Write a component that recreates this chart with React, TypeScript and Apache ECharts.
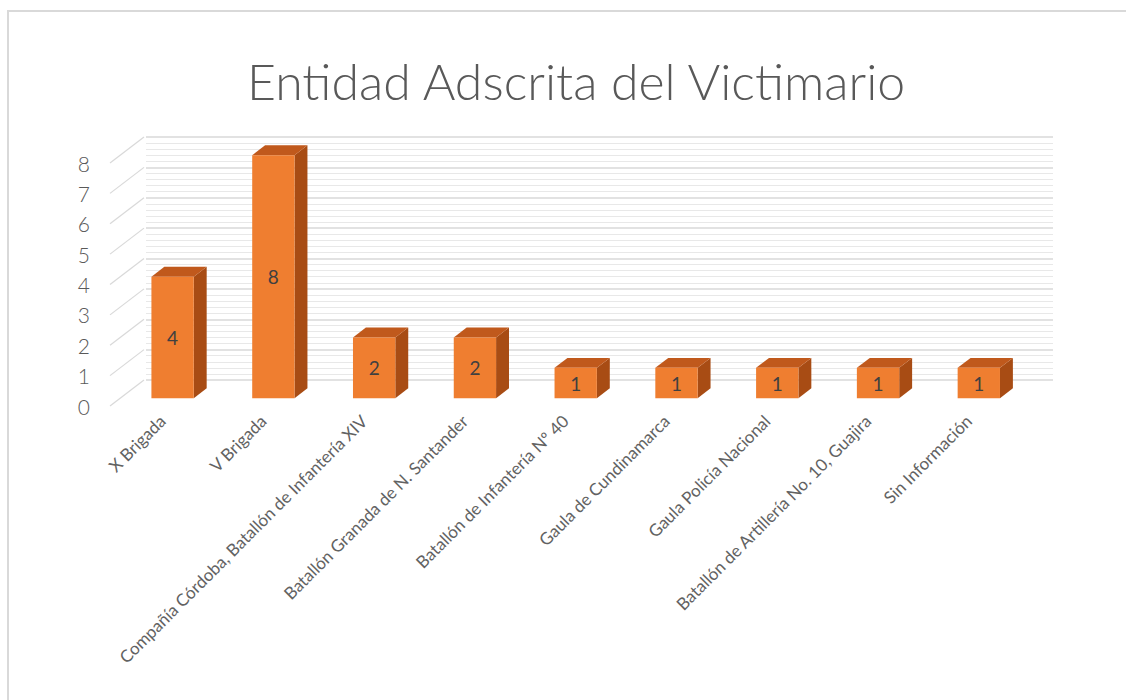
import React, { useEffect, useRef } from "react";
import * as echarts from "echarts";

const categories = [
  "X Brigada",
  "V Brigada",
  "Compañía Córdoba, Batallón de Infantería XIV",
  "Batallón Granada de N. Santander",
  "Batallón de Infantería Nº 40",
  "Gaula de Cundinamarca",
  "Gaula Policía Nacional",
  "Batallón de Artillería No. 10, Guajira",
  "Sin Información",
];
const values = [4, 8, 2, 2, 1, 1, 1, 1, 1];
const yTicks = [0, 1, 2, 3, 4, 5, 6, 7, 8];
const titleText = "Entidad Adscrita del Victimario";

const FONT = "Lato";
const DX = 34;
const DY = -26;
const F0 = 0.3;
const F1 = 0.68;

export default function App() {
  const ref = useRef<HTMLDivElement>(null);
  useEffect(() => {
    if (!ref.current) return;
    const chart = echarts.init(ref.current, undefined, { renderer: "svg" });
    const option: any = {
      animation: false,
      backgroundColor: "#ffffff",
      title: {
        text: titleText,
        left: 242,
        top: 51,
        textStyle: { fontFamily: FONT, fontWeight: 300, fontSize: 50, color: "#595959" },
      },
      graphic: [
        {
          type: "rect",
          shape: { x: 8, y: 11, width: 1200, height: 800 },
          style: { fill: "none", stroke: "#d9d9d9", lineWidth: 2 },
          silent: true,
        },
      ],
      grid: [
        { left: 112, top: 163, width: 907, height: 243 },
        { left: 146, top: 137, width: 907, height: 243 },
      ],
      xAxis: [
        {
          type: "category",
          gridIndex: 0,
          data: categories,
          axisLine: { show: false },
          axisTick: { show: false },
          axisLabel: {
            rotate: 45,
            interval: 0,
            margin: 12,
            fontFamily: FONT,
            fontSize: 17,
            color: "#626262",
          },
        },
        { type: "category", gridIndex: 1, data: categories, show: false },
      ],
      yAxis: [
        {
          type: "value",
          gridIndex: 0,
          min: 0,
          max: 8,
          interval: 1,
          axisLine: { show: false },
          axisTick: { show: false },
          splitLine: { show: false },
          axisLabel: {
            margin: 22,
            fontFamily: FONT,
            fontWeight: 300,
            fontSize: 21,
            color: "#595959",
            formatter: (v: number) => (yTicks.includes(v) ? String(v) : ""),
          },
        },
        {
          type: "value",
          gridIndex: 1,
          min: 0,
          max: 8,
          interval: 1,
          axisLine: { show: false },
          axisTick: { show: false },
          axisLabel: { show: false },
          splitLine: { show: true, lineStyle: { color: "#d9d9d9", width: 1.5 } },
          minorTick: { show: false, splitNumber: 5 },
          minorSplitLine: { show: true, lineStyle: { color: "#e8e8e8", width: 1 } },
        },
      ],
      series: [
        {
          type: "custom",
          xAxisIndex: 0,
          yAxisIndex: 0,
          z: 1,
          silent: true,
          data: yTicks.map((t) => [0, t]),
          renderItem: (params: any, api: any) => {
            const v = api.value(1);
            const p = api.coord([0, v]);
            const x = params.coordSys.x;
            return {
              type: "line",
              shape: { x1: x - 2, y1: p[1], x2: x - 2 + DX, y2: p[1] + DY },
              style: { stroke: "#d9d9d9", lineWidth: 1.2 },
            };
          },
        },
        {
          type: "custom",
          xAxisIndex: 0,
          yAxisIndex: 0,
          z: 5,
          data: values.map((v, i) => [i, v]),
          renderItem: (params: any, api: any) => {
            const i = api.value(0);
            const v = api.value(1);
            const base = api.coord([i, 0]);
            const top = api.coord([i, v]);
            const bw = api.size([1, 0])[0] * 0.42;
            const ox = DX * F0;
            const oy = DY * F0;
            const ddx = DX * (F1 - F0);
            const ddy = DY * (F1 - F0);
            const x0 = base[0] - bw / 2 + ox;
            const x1 = x0 + bw;
            const yb = base[1] + oy;
            const yt = top[1] + oy;
            return {
              type: "group",
              children: [
                {
                  type: "polygon",
                  shape: {
                    points: [
                      [x1, yb],
                      [x1, yt],
                      [x1 + ddx, yt + ddy],
                      [x1 + ddx, yb + ddy],
                    ],
                  },
                  style: { fill: "#a84c14" },
                },
                {
                  type: "polygon",
                  shape: {
                    points: [
                      [x0, yt],
                      [x1, yt],
                      [x1 + ddx, yt + ddy],
                      [x0 + ddx, yt + ddy],
                    ],
                  },
                  style: { fill: "#c0591c" },
                },
                {
                  type: "rect",
                  shape: { x: x0, y: yt, width: bw, height: yb - yt },
                  style: { fill: "#ef7e30" },
                },
                {
                  type: "text",
                  x: x0 + bw / 2,
                  y: (yt + yb) / 2,
                  style: {
                    text: String(v),
                    fill: "#404040",
                    fontFamily: FONT,
                    fontSize: 19,
                    align: "center",
                    verticalAlign: "middle",
                  },
                },
              ],
            };
          },
        },
      ],
    };
    chart.setOption(option);
    return () => chart.dispose();
  }, []);
  return (
    <div
      ref={ref}
      style={{ position: "fixed", left: 0, top: 0, width: 1126, height: 700, background: "#fff" }}
    />
  );
}
